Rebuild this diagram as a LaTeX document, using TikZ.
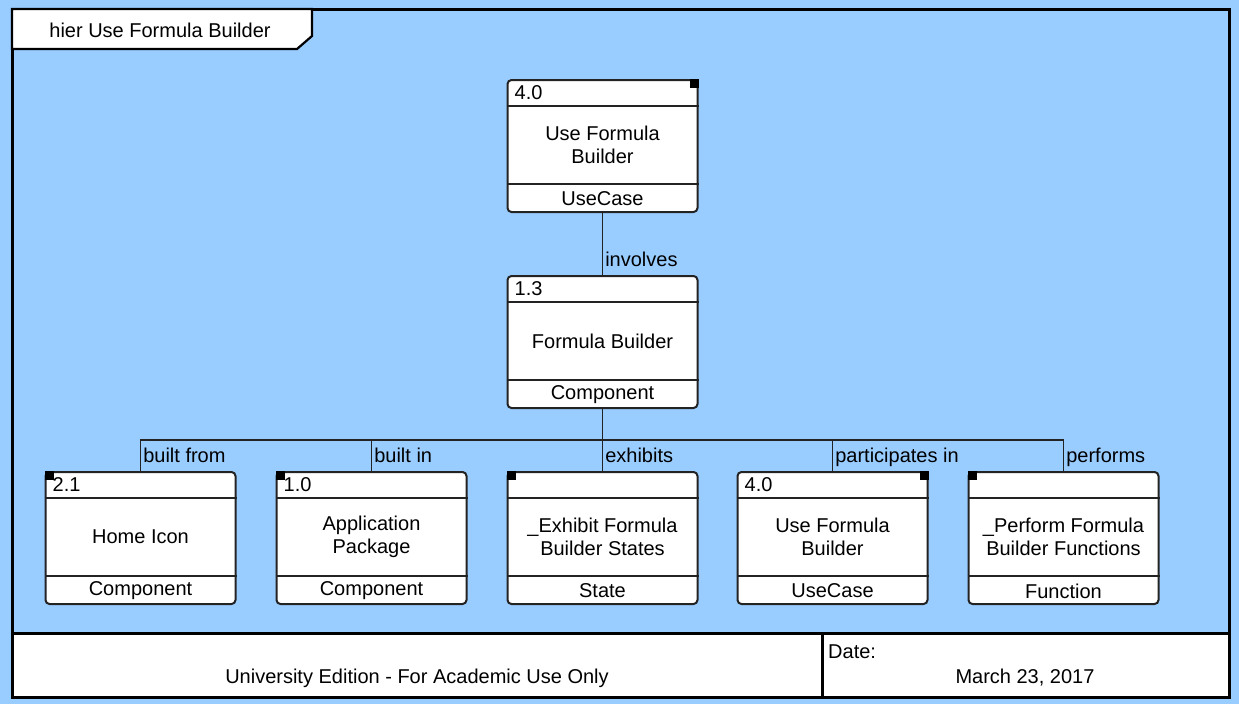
\documentclass[tikz,border=0pt]{standalone}
\usepackage{fontspec}
\setmainfont{Liberation Sans}
\usetikzlibrary{calc}

\definecolor{canvasblue}{RGB}{153,204,255}
\definecolor{inkgray}{RGB}{35,35,35}

\tikzset{
  box/.style={draw=inkgray, line width=2pt, fill=white, rounded corners=4pt,
              minimum width=190pt, minimum height=132pt, inner sep=0pt},
  divider/.style={draw=inkgray, line width=1.6pt},
  link/.style={draw=inkgray, line width=1.6pt},
  txt/.style={inner sep=0pt, font=\fontsize{20}{23.5}\selectfont, align=center, text=black},
  lbl/.style={txt, anchor=base west, xshift=2pt, yshift=9pt},
  frameline/.style={draw=black, line width=3pt},
}

% #1 name, #2 centre x, #3 top y, #4 number, #5 title, #6 kind
\newcommand\entity[6]{%
  \node[box, anchor=north] (#1) at (#2,#3) {};
  \draw[divider] ($(#1.north west)+(0,-27pt)$) -- ($(#1.north east)+(0,-27pt)$);
  \draw[divider] ($(#1.south west)+(0,29pt)$) -- ($(#1.south east)+(0,29pt)$);
  \node[txt, anchor=base west] (#1-id) at ($(#1.north west)+(8pt,-20pt)$) {#4};
  \node[txt] (#1-body) at ($(#1.north)+(0,-66pt)$) {#5};
  \node[txt] (#1-kind) at ($(#1.south)+(0,14pt)$) {#6};
}
\newcommand\cornerleft[1]{\fill[black] ($(#1.north west)+(0pt,0pt)$) rectangle ++(9pt,-9pt);}
\newcommand\cornerright[1]{\fill[black] ($(#1.north east)+(0pt,0pt)$) rectangle ++(-9pt,-9pt);}

\begin{document}
\begin{tikzpicture}[x=1pt, y=-1pt]
  % canvas
  \fill[canvasblue] (0,0) rectangle (1239,704);
  \useasboundingbox (0,0) rectangle (1239,704);

  % outer frame and title tab
  \draw[frameline] (12,9) rectangle (1229,697);
  \draw[fill=white, draw=black, line width=2.2pt]
    (12,9) -- (312,9) -- (312,36) -- (297,49) -- (12,49) -- cycle;
  \node[txt] (title) at (160,30) {hier Use Formula Builder};

  % footer
  \draw[frameline, fill=white] (12,633) rectangle (1229,697);
  \draw[frameline] (822,633) -- (822,697);
  \node[txt] (edition) at (417,678) {University Edition - For Academic Use Only};
  \node[txt, anchor=base west] (datelbl) at (828,658) {Date:};
  \node[txt] (date) at (1025,678) {March 23, 2017};

  % entities
  \entity{uc}{602.5}{79}{4.0}{Use Formula\\Builder}{UseCase}
  \cornerright{uc}
  \entity{fb}{602.5}{275}{1.3}{Formula Builder}{Component}

  \entity{c1}{140.5}{471}{2.1}{Home Icon}{Component}
  \cornerleft{c1}
  \entity{c2}{371.5}{471}{1.0}{Application\\Package}{Component}
  \cornerleft{c2}
  \entity{c3}{602.5}{471}{}{\_Exhibit Formula\\Builder States}{State}
  \cornerleft{c3}
  \entity{c4}{832.5}{471}{4.0}{Use Formula\\Builder}{UseCase}
  \cornerright{c4}
  \entity{c5}{1063.5}{471}{}{\_Perform Formula\\Builder Functions}{Function}
  \cornerleft{c5}

  % relations
  \draw[link] (uc.south) -- (fb.north) node[lbl] {involves};
  \coordinate (bus) at (602.5,440);
  \draw[link] (fb.south) -- (bus);
  \draw[link] (bus) -| (c1.north) node[lbl] {built from};
  \draw[link] (bus) -| (c2.north) node[lbl] {built in};
  \draw[link] (bus) -- (c3.north) node[lbl] {exhibits};
  \draw[link] (bus) -| (c4.north) node[lbl] {participates in};
  \draw[link] (bus) -| (c5.north) node[lbl] {performs};
\end{tikzpicture}
\end{document}
